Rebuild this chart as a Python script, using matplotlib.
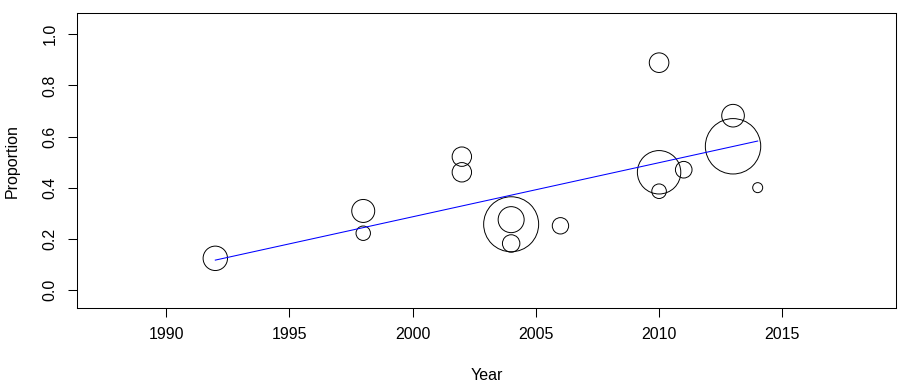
import matplotlib
matplotlib.use('Agg')
import matplotlib.pyplot as plt
import numpy as np

years = [1992, 1998, 1998, 2002, 2002, 2004, 2004, 2004, 2006,
         2010, 2010, 2010, 2011, 2013, 2013, 2014]
proportion = [0.125, 0.310, 0.223, 0.522, 0.461, 0.258, 0.276, 0.183, 0.252,
              0.889, 0.461, 0.387, 0.471, 0.682, 0.5625, 0.401]
sample_size = [149, 132, 52, 94, 94, 756, 169, 76, 67,
               96, 471, 53, 69, 128, 767, 25]

trend_years = [1992, 2014]
trend_values = [0.118, 0.583]

x_ticks = [1990, 1995, 2000, 2005, 2010, 2015]
y_ticks = [0.0, 0.2, 0.4, 0.6, 0.8, 1.0]

plt.rcParams['font.family'] = ['Liberation Sans', 'DejaVu Sans']

fig = plt.figure(figsize=(9.12, 3.9), dpi=100)
ax = fig.add_axes([77 / 912, 82 / 390, 819 / 912, 295 / 390])

# bubble area ~ sample size (radius in px = sqrt(n))
sizes = [(2 * np.sqrt(n) * 0.72) ** 2 for n in sample_size]
ax.scatter(years, proportion, s=sizes, facecolors='none', edgecolors='black', linewidths=0.7)
ax.plot(trend_years, trend_values, color='blue', lw=0.75)

ax.set_xlim(1986.39, 2019.61)
ax.set_ylim(-0.069, 1.083)
ax.set_xticks(x_ticks)
ax.set_yticks(y_ticks)
ax.set_xticklabels([str(x) for x in x_ticks])
ax.set_yticklabels([f'{y:.1f}' for y in y_ticks], rotation=90, va='center')

for sp in ax.spines.values():
    sp.set_linewidth(0.75)
ax.tick_params(axis='both', length=6.8, width=0.75, labelsize=11.5, pad=7)

fig.text(12 / 912, 1 - 161 / 390, 'Proportion', rotation=90, ha='center', va='center', fontsize=11.5)
fig.text(487 / 912, 1 - 375 / 390, 'Year', ha='center', va='center', fontsize=11.5)

fig.savefig('out.png', dpi=100)
